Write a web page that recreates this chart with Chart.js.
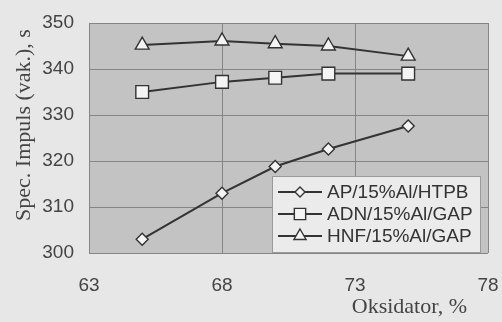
<!DOCTYPE html>
<html>
<head>
<meta charset="utf-8">
<script src="https://cdn.jsdelivr.net/npm/chart.js@4"></script>
<style>
  html, body { margin: 0; padding: 0; background: #e7e7e7; }
  #wrap { width: 502px; height: 322px; }
</style>
</head>
<body>
<div id="wrap"><canvas id="impulsChart" width="502" height="322"></canvas></div>
<script>
// Oxidizer content (%) and specific impulse (vacuum, s)
const oksidator = [65, 68, 70, 72, 75];
const apHtpb = [303, 313, 318.8, 322.6, 327.6];
const adnGap = [335, 337.2, 338.1, 339, 339];
const hnfGap = [345.2, 346.1, 345.5, 345, 342.8];
const seriesNames = ['AP/15%Al/HTPB', 'ADN/15%Al/GAP', 'HNF/15%Al/GAP'];
const xTicks = [63, 68, 73, 78];
const yTicks = [300, 310, 320, 330, 340, 350];
const xTitle = 'Oksidator, %';
const yTitle = 'Spec. Impuls (vak.), s';

const toPoints = (ys) => oksidator.map((x, i) => ({ x: x, y: ys[i] }));
const serif = '"Liberation Serif", "Times New Roman", serif';
const sans = '"Liberation Sans", Arial, sans-serif';

function lineSet(label, ys, style, radius) {
    return {
        label: label,
        data: toPoints(ys),
        borderColor: '#333',
        borderWidth: 2,
        backgroundColor: '#f4f4f4',
        pointBorderColor: '#333',
        pointBorderWidth: 1.4,
        pointStyle: style,
        pointRadius: radius,
        tension: 0
    };
}

// grey plot area behind the grid
const plotBg = {
    id: 'plotBg',
    beforeDraw(chart) {
        const { ctx, chartArea: a } = chart;
        ctx.save();
        ctx.fillStyle = '#c3c3c3';
        ctx.fillRect(a.left, a.top, a.right - a.left, a.bottom - a.top);
        ctx.restore();
    }
};

// axis titles (serif, as in the scanned figure)
const axisTitles = {
    id: 'axisTitles',
    afterDraw(chart) {
        const ctx = chart.ctx;
        ctx.save();
        ctx.fillStyle = '#444';
        ctx.font = '22px ' + serif;
        ctx.textAlign = 'right';
        ctx.textBaseline = 'alphabetic';
        ctx.fillText(xTitle, 467, 313);
        ctx.translate(30, 125);
        ctx.rotate(-Math.PI / 2);
        ctx.textAlign = 'center';
        ctx.fillText(yTitle, 0, 0);
        ctx.restore();
    }
};

// legend box inside the plot, bottom right
const boxLegend = {
    id: 'boxLegend',
    afterDatasetsDraw(chart) {
        const ctx = chart.ctx;
        const x0 = 272, y0 = 176, w = 208, h = 76;
        ctx.save();
        ctx.fillStyle = '#ebebeb';
        ctx.fillRect(x0, y0, w, h);
        ctx.strokeStyle = '#9a9a9a';
        ctx.lineWidth = 1;
        ctx.strokeRect(x0 + 0.5, y0 + 0.5, w, h);
        ctx.font = '19px ' + sans;
        ctx.textBaseline = 'middle';
        chart.data.datasets.forEach((ds, i) => {
            const cy = y0 + 16 + i * 22;
            ctx.strokeStyle = '#333';
            ctx.lineWidth = 2;
            ctx.beginPath();
            ctx.moveTo(x0 + 6, cy);
            ctx.lineTo(x0 + 50, cy);
            ctx.stroke();
            ctx.fillStyle = '#f4f4f4';
            ctx.lineWidth = 1.4;
            Chart.helpers.drawPoint(ctx, {
                pointStyle: ds.pointStyle, radius: ds.pointRadius - 1, rotation: 0, borderWidth: 1.4
            }, x0 + 28, cy);
            ctx.fillStyle = '#333';
            ctx.fillText(ds.label, x0 + 55, cy + 1);
        });
        ctx.restore();
    }
};

new Chart(document.getElementById('impulsChart'), {
    type: 'line',
    data: {
        datasets: [
            lineSet(seriesNames[0], apHtpb, 'rectRot', 6),
            lineSet(seriesNames[1], adnGap, 'rect', 9),
            lineSet(seriesNames[2], hnfGap, 'triangle', 8)
        ]
    },
    options: {
        responsive: false,
        animation: false,
        layout: { padding: { top: 23, right: 14, left: 0, bottom: 0 } },
        plugins: {
            legend: { display: false },
            tooltip: { enabled: false }
        },
        scales: {
            x: {
                type: 'linear',
                min: 63,
                max: 78,
                afterBuildTicks(scale) { scale.ticks = xTicks.map(v => ({ value: v })); },
                afterFit(scale) {
                    scale.height = 69;
                    scale.paddingLeft = 0;
                    scale.paddingRight = 0;
                },
                grid: { color: '#858585', lineWidth: 1, drawTicks: false },
                border: { display: false },
                ticks: {
                    color: '#444',
                    padding: 21,
                    maxRotation: 0,
                    font: { size: 19, family: sans }
                }
            },
            y: {
                min: 300,
                max: 350,
                afterBuildTicks(scale) { scale.ticks = yTicks.map(v => ({ value: v })); },
                afterFit(scale) {
                    scale.width = 89;
                    scale.paddingTop = 0;
                    scale.paddingBottom = 0;
                },
                grid: { color: '#858585', lineWidth: 1, drawTicks: false },
                border: { display: false },
                ticks: {
                    color: '#444',
                    padding: 15,
                    font: { size: 19, family: sans }
                }
            }
        }
    },
    plugins: [plotBg, boxLegend, axisTitles]
});
</script>
</body>
</html>
